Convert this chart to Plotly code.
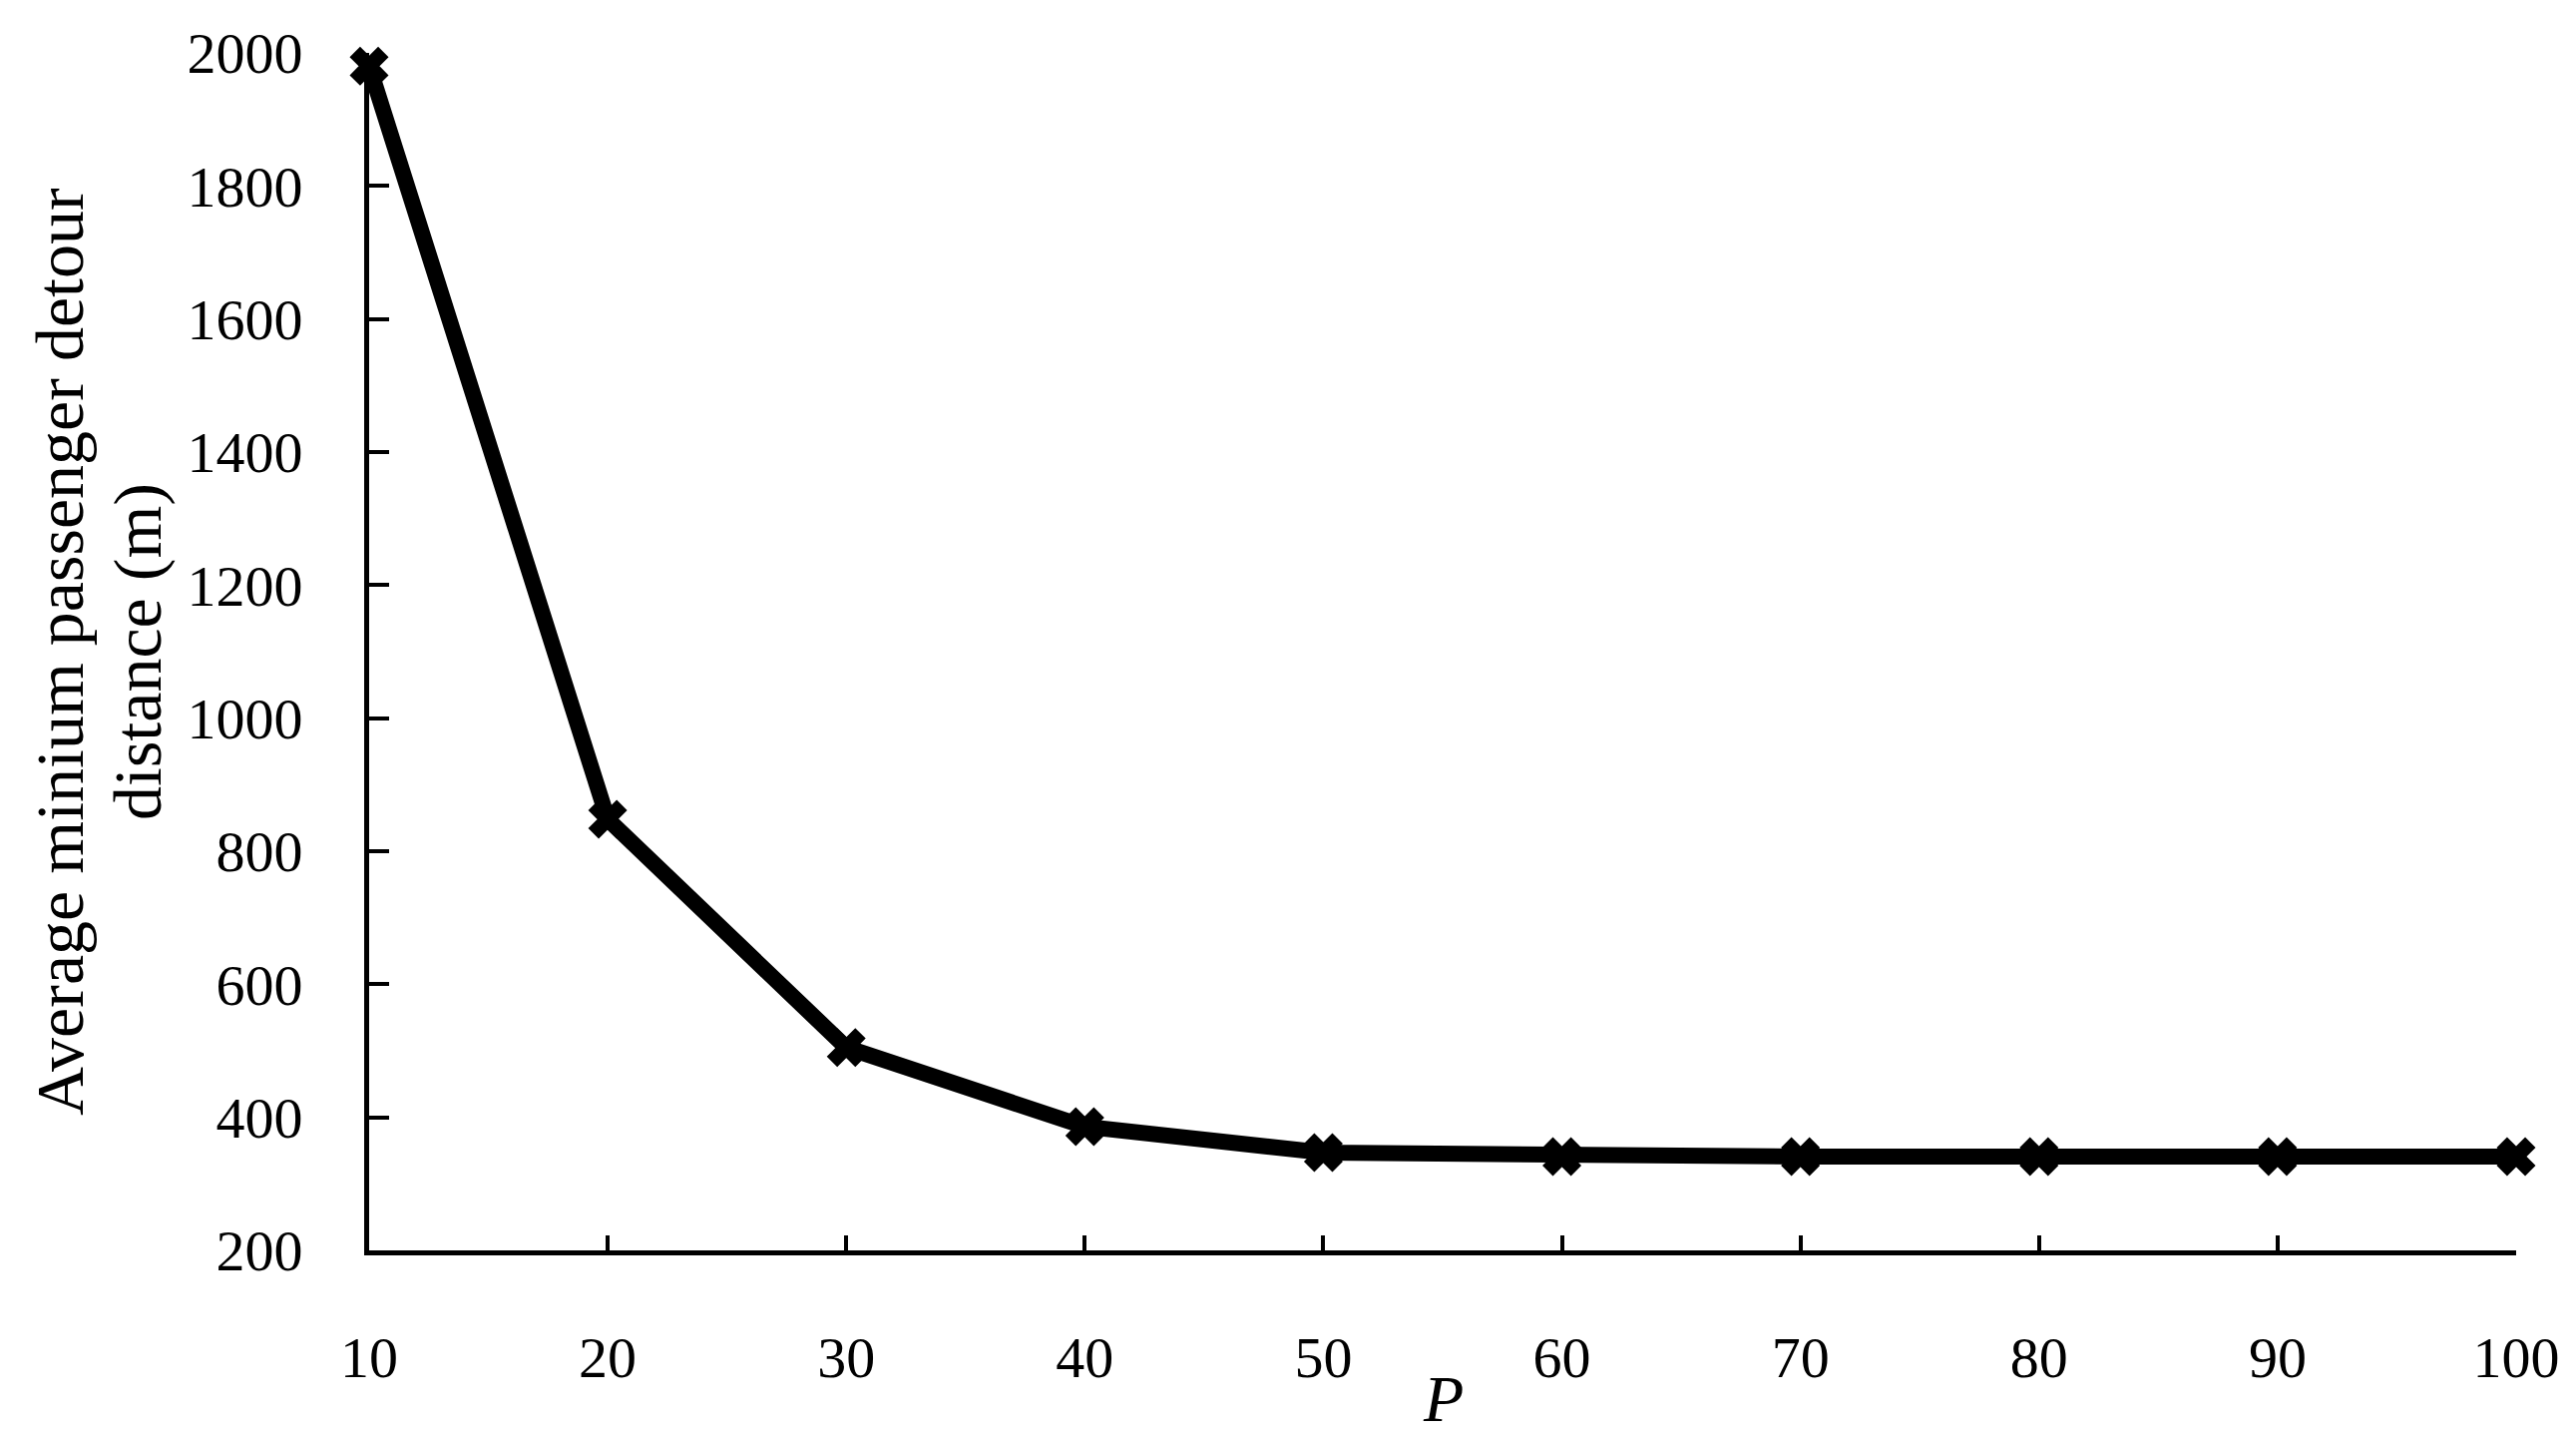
import plotly.graph_objects as go

# ---------------------------------------------------------------------------
# Data
# ---------------------------------------------------------------------------

P_VALUES = [10, 20, 30, 40, 50, 60, 70, 80, 90, 100]
DETOUR_M = [1980, 848, 505, 386, 347, 341, 341, 341, 341, 341]

X_TICKS = [10, 20, 30, 40, 50, 60, 70, 80, 90, 100]
Y_TICKS = [200, 400, 600, 800, 1000, 1200, 1400, 1600, 1800, 2000]

Y_TITLE_LINES = ["Average minium passenger detour", "distance (m)"]
X_TITLE = "<i>P</i>"

# ---------------------------------------------------------------------------
# Styling
# ---------------------------------------------------------------------------

W, H = 2582, 1437
MARGIN = dict(l=362, r=68, t=45, b=192)
FONT = "Liberation Serif, 'Times New Roman', serif"

fig = go.Figure()

fig.add_trace(go.Scatter(
    x=P_VALUES, y=DETOUR_M,
    mode="lines+markers",
    line=dict(color="black", width=16),
    marker=dict(symbol="x", size=32, color="black",
                line=dict(color="black", width=2)),
    cliponaxis=False,
    showlegend=False,
))

axis_common = dict(
    showline=True, linecolor="black", linewidth=5,
    ticks="inside", tickcolor="black", tickwidth=4,
    showgrid=False, zeroline=False, automargin=False,
    tickfont=dict(family=FONT, size=58, color="black"),
)

fig.update_xaxes(
    range=[10, 100], tickvals=X_TICKS, ticklen=15,
    ticklabelstandoff=52, **axis_common,
)
fig.update_yaxes(
    range=[200, 2000], tickvals=Y_TICKS, ticklen=20,
    ticklabelstandoff=50, **axis_common,
)

plot_w = W - MARGIN["l"] - MARGIN["r"]
plot_h = H - MARGIN["t"] - MARGIN["b"]
axis_y_px = H - MARGIN["b"]

# y title as two rotated lines (tighter line spacing than plotly's default)
for text, cx in zip(Y_TITLE_LINES, [52, 130]):
    fig.add_annotation(
        text=text, textangle=-90,
        xref="paper", yref="paper",
        x=(cx - MARGIN["l"]) / plot_w, y=0.5,
        xanchor="center", yanchor="middle", showarrow=False,
        font=dict(family=FONT, size=68, color="black"),
    )

fig.add_annotation(
    text=X_TITLE, xref="paper", yref="paper",
    x=0.5, y=-(1393 - axis_y_px) / plot_h,
    xanchor="center", yanchor="middle", showarrow=False,
    font=dict(family=FONT, size=66, color="black"),
)

fig.update_layout(
    width=W, height=H, margin=MARGIN,
    paper_bgcolor="white", plot_bgcolor="white",
    font=dict(family=FONT, color="black"),
)

fig.write_html("out.html")
